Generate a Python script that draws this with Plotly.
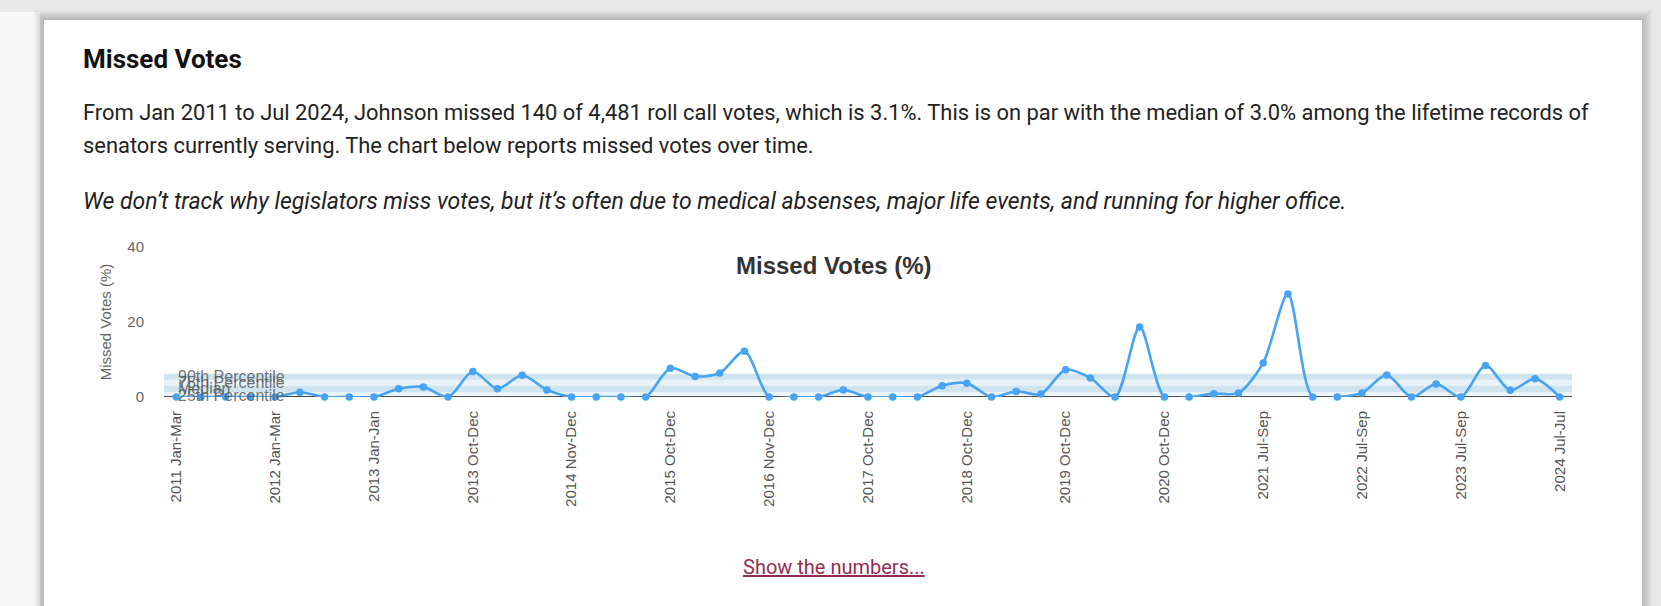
import plotly.graph_objects as go

# Reporting periods (quarters, plus short session tails)
periods = [
    "2011 Jan-Mar", "2011 Apr-Jun", "2011 Jul-Sep", "2011 Oct-Dec",
    "2012 Jan-Mar", "2012 Apr-Jun", "2012 Jul-Sep", "2012 Oct-Dec",
    "2013 Jan-Jan", "2013 Jan-Mar", "2013 Apr-Jun", "2013 Jul-Sep",
    "2013 Oct-Dec", "2014 Jan-Mar", "2014 Apr-Jun", "2014 Jul-Sep",
    "2014 Nov-Dec", "2015 Jan-Mar", "2015 Apr-Jun", "2015 Jul-Sep",
    "2015 Oct-Dec", "2016 Jan-Mar", "2016 Apr-Jun", "2016 Jul-Sep",
    "2016 Nov-Dec", "2017 Jan-Mar", "2017 Apr-Jun", "2017 Jul-Sep",
    "2017 Oct-Dec", "2018 Jan-Mar", "2018 Apr-Jun", "2018 Jul-Sep",
    "2018 Oct-Dec", "2019 Jan-Mar", "2019 Apr-Jun", "2019 Jul-Sep",
    "2019 Oct-Dec", "2020 Jan-Mar", "2020 Apr-Jun", "2020 Jul-Sep",
    "2020 Oct-Dec", "2021 Jan-Jan", "2021 Jan-Mar", "2021 Apr-Jun",
    "2021 Jul-Sep", "2021 Oct-Dec", "2022 Jan-Mar", "2022 Apr-Jun",
    "2022 Jul-Sep", "2022 Oct-Dec", "2023 Jan-Mar", "2023 Apr-Jun",
    "2023 Jul-Sep", "2023 Oct-Dec", "2024 Jan-Mar", "2024 Apr-Jun",
    "2024 Jul-Jul",
]

# Share of roll call votes missed in each period (%)
missed_pct = [
    0, 0, 0, 0,
    0, 1.25, 0, 0,
    0, 2.2, 2.7, 0,
    6.8, 2.2, 5.8, 1.9,
    0, 0, 0, 0,
    7.7, 5.5, 6.4, 12.2,
    0, 0, 0, 1.9,
    0, 0, 0, 3.0,
    3.7, 0, 1.5, 0.8,
    7.3, 5.1, 0, 18.7,
    0, 0, 0.9, 1.1,
    9.1, 27.5, 0, 0,
    1.1, 5.9, 0, 3.5,
    0, 8.4, 1.8, 4.9,
    0,
]

# Lifetime records of senators currently serving
percentile_names = ["90th Percentile", "75th Percentile", "Median", "25th Percentile"]
percentile_values = [6.2, 4.6, 3.0, 1.3]

tick_periods = periods[::4]

W, H = 1661, 606
L, R, T, B = 164, 89, 247, 209
PW, PH = W - L - R, H - T - B


def px(x):
    return (x - L) / PW


def py(y):
    return (H - B - y) / PH


LINE_BLUE = "#47a3f3"
CHART_FONT = "Liberation Sans, Arial, sans-serif"
PAGE_FONT = "Roboto, sans-serif"

fig = go.Figure()

fig.add_trace(go.Scatter(
    x=periods,
    y=missed_pct,
    mode="lines+markers",
    line=dict(color=LINE_BLUE, width=2.6, shape="spline", smoothing=0.8),
    marker=dict(color=LINE_BLUE, size=7.5),
    cliponaxis=False,
    hoverinfo="x+y",
    showlegend=False,
))

shapes = []

# page background: light strip on the left, card with a soft shadow
shapes.append(dict(
    type="rect", xref="paper", yref="paper", layer="below",
    x0=px(-5), x1=px(40), y0=py(650), y1=py(12),
    fillcolor="#f7f7f7", line=dict(width=0),
))
for g in range(10, 0, -1):
    shapes.append(dict(
        type="rect", xref="paper", yref="paper", layer="below",
        x0=px(44 - g), x1=px(1642 + g), y0=py(650), y1=py(20 - g),
        fillcolor="rgba(0,0,0,0.018)", line=dict(width=0),
    ))
shapes.append(dict(
    type="rect", xref="paper", yref="paper", layer="below",
    x0=px(44), x1=px(1642), y0=py(650), y1=py(20),
    fillcolor="white", line=dict(width=0),
))

# percentile bands
band_edges = percentile_values + [0]
band_colors = ["rgba(176,210,230,0.6)", "rgba(214,232,243,0.55)",
               "rgba(176,210,230,0.6)", "rgba(214,232,243,0.45)"]
for top, bot, col in zip(band_edges[:-1], band_edges[1:], band_colors):
    shapes.append(dict(
        type="rect", xref="paper", yref="y", layer="below",
        x0=0, x1=1, y0=bot, y1=top,
        fillcolor=col, line=dict(width=0),
    ))

# zero line
shapes.append(dict(
    type="line", xref="paper", yref="y", layer="below",
    x0=0, x1=1, y0=0, y1=0,
    line=dict(color="#4d4d4d", width=2),
))

annotations = []
for name, val in zip(percentile_names, percentile_values):
    annotations.append(dict(
        xref="paper", yref="y", x=px(176), y=val, xanchor="left", yanchor="middle",
        yshift=-3, text=name, showarrow=False,
        font=dict(family=CHART_FONT, size=16, color="rgba(90,90,90,0.85)"),
    ))

annotations.append(dict(
    xref="paper", yref="paper", x=px(834), y=py(265), xanchor="center", yanchor="middle",
    text="<b>Missed Votes (%)</b>", showarrow=False,
    font=dict(family=CHART_FONT, size=24, color="#333333"),
))

annotations += [
    dict(xref="paper", yref="paper", x=px(81), y=py(59), xanchor="left", yanchor="middle",
         text="<b>Missed Votes</b>", showarrow=False,
         font=dict(family=PAGE_FONT, size=26, color="#111111")),
    dict(xref="paper", yref="paper", x=px(81), y=py(112), xanchor="left", yanchor="middle",
         text="From Jan 2011 to Jul 2024, Johnson missed 140 of 4,481 roll call votes, which is 3.1%. "
              "This is on par with the median of 3.0% among the lifetime records of",
         showarrow=False, font=dict(family=PAGE_FONT, size=21.9, color="#222222")),
    dict(xref="paper", yref="paper", x=px(81), y=py(145), xanchor="left", yanchor="middle",
         text="senators currently serving. The chart below reports missed votes over time.",
         showarrow=False, font=dict(family=PAGE_FONT, size=21.9, color="#222222")),
    dict(xref="paper", yref="paper", x=px(81), y=py(201), xanchor="left", yanchor="middle",
         text="<i>We don\u2019t track why legislators miss votes, but it\u2019s often due to medical "
              "absenses, major life events, and running for higher office.</i>",
         showarrow=False, font=dict(family=PAGE_FONT, size=23, color="#222222")),
    dict(xref="paper", yref="paper", x=px(834), y=py(567), xanchor="center", yanchor="middle",
         text="<u>Show the numbers...</u>", showarrow=False,
         font=dict(family=PAGE_FONT, size=20, color="#962d4f")),
]

fig.update_layout(
    width=W, height=H,
    margin=dict(l=L, r=R, t=T, b=B, autoexpand=False),
    paper_bgcolor="#e8e8e8",
    plot_bgcolor="rgba(0,0,0,0)",
    shapes=shapes,
    annotations=annotations,
    showlegend=False,
    xaxis=dict(
        type="category",
        range=[-0.5, len(periods) - 0.5],
        tickmode="array", tickvals=tick_periods, ticktext=tick_periods,
        tickangle=-90,
        ticks="outside", ticklen=7, tickcolor="rgba(0,0,0,0)",
        tickfont=dict(family=CHART_FONT, size=15, color="#555555"),
        showgrid=False, zeroline=False, showline=False,
    ),
    yaxis=dict(
        range=[0, 40], tickvals=[0, 20, 40],
        ticks="outside", ticklen=16, tickcolor="rgba(0,0,0,0)",
        tickfont=dict(family=CHART_FONT, size=15, color="#666666"),
        title=dict(text="Missed Votes (%)", standoff=12,
                   font=dict(family=CHART_FONT, size=15, color="#666666")),
        showgrid=False, zeroline=False, showline=False,
    ),
)

fig.write_html("out.html")
